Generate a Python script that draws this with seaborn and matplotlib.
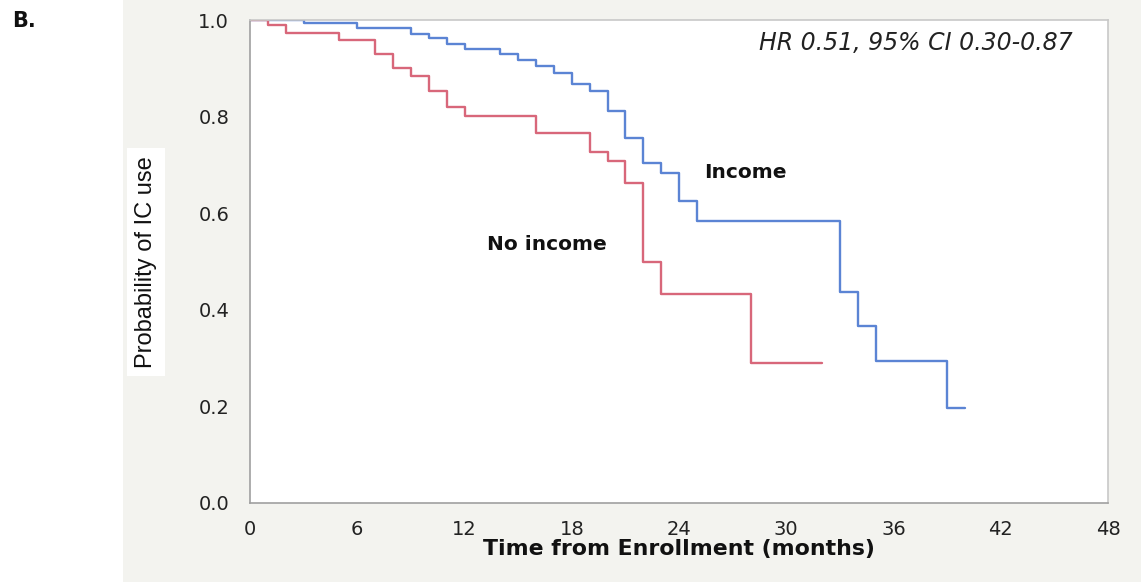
import matplotlib
matplotlib.use("Agg")
import matplotlib.pyplot as plt
import matplotlib.patches as mpatches
import seaborn as sns
import pandas as pd

# ---- data ----
groups = ["Income", "No income"]
income_time = [0, 3, 6, 9, 10, 11, 12, 14, 15, 16, 17, 18, 19, 20, 21, 22, 23, 24, 25, 33, 34, 35, 39, 40]
income_surv = [1.0, 0.994, 0.983, 0.972, 0.962, 0.951, 0.940, 0.929, 0.917, 0.905, 0.890, 0.867,
               0.853, 0.812, 0.755, 0.704, 0.684, 0.625, 0.584, 0.437, 0.366, 0.294, 0.197, 0.197]
noinc_time = [0, 1, 2, 5, 7, 8, 9, 10, 11, 12, 16, 19, 20, 21, 22, 23, 28, 32]
noinc_surv = [1.0, 0.990, 0.974, 0.959, 0.930, 0.900, 0.885, 0.854, 0.819, 0.801, 0.767,
              0.727, 0.708, 0.662, 0.498, 0.432, 0.289, 0.289]
x_ticks = [0, 6, 12, 18, 24, 30, 36, 42, 48]
y_ticks = [0.0, 0.2, 0.4, 0.6, 0.8, 1.0]
x_label = "Time from Enrollment (months)"
y_label = "Probability of IC use"
hr_text = "HR 0.51, 95% CI 0.30-0.87"
panel_label = "B."

df = pd.concat([
    pd.DataFrame({"time": income_time, "surv": income_surv, "group": groups[0]}),
    pd.DataFrame({"time": noinc_time, "surv": noinc_surv, "group": groups[1]}),
], ignore_index=True)

sns.set_style("white")
plt.rcParams["font.family"] = ["DejaVu Sans"]

W, H = 1141, 582
fig = plt.figure(figsize=(W / 100, H / 100), dpi=100)
fig.patch.set_facecolor("white")
# light gray panel background
fig.patches.append(mpatches.Rectangle((123 / W, 0), 1 - 123 / W, 1, transform=fig.transFigure,
                                      facecolor="#f3f3ef", edgecolor="none", zorder=-10))

ax = fig.add_axes([250 / W, 1 - 503 / H, 858 / W, 483 / H])
ax.set_facecolor("white")

palette = {"Income": "#5b84d4", "No income": "#d8677a"}
sns.lineplot(data=df, x="time", y="surv", hue="group", palette=palette, estimator=None,
             sort=False, drawstyle="steps-post", linewidth=1.7, legend=False, ax=ax)

ax.set_xlim(0, 48)
ax.set_ylim(0, 1.0)
ax.set_xticks(x_ticks)
ax.set_xticklabels([str(t) for t in x_ticks])
ax.set_yticks(y_ticks)
ax.set_yticklabels([f"{v:.1f}" for v in y_ticks])
ax.tick_params(axis="both", direction="out", length=11, width=1.0, color="#a8a8a8",
               labelsize=14, labelcolor="#222222")
ax.tick_params(axis="x", pad=1.5)
ax.tick_params(axis="y", pad=4)
for s in ["left", "bottom"]:
    ax.spines[s].set_color("#a0a0a0")
    ax.spines[s].set_linewidth(1.2)
for s in ["top", "right"]:
    ax.spines[s].set_color("#c8c8c8")
    ax.spines[s].set_linewidth(1.2)

ax.set_xlabel(x_label, fontsize=15.8, fontweight="bold", color="#111111", labelpad=0)
ax.set_ylabel("")

ax.text(27.7, 0.685, "Income", fontsize=14.5, fontweight="bold", ha="center", va="center", color="#111111")
ax.text(16.6, 0.535, "No income", fontsize=14.5, fontweight="bold", ha="center", va="center", color="#111111")
ax.text(46.0, 0.953, hr_text, fontsize=17, fontstyle="italic", ha="right", va="center", color="#222222")

fig.text(146 / W, 1 - 262 / H, y_label, rotation=90, ha="center", va="center", fontsize=17,
         family=["Liberation Sans", "DejaVu Sans"], color="#111111",
         bbox=dict(facecolor="white", edgecolor="none", pad=6))
fig.text(12 / W, 1 - 21 / H, panel_label, ha="left", va="center", fontsize=15, fontweight="bold",
         color="#111111")

fig.savefig("out.png", dpi=100)
